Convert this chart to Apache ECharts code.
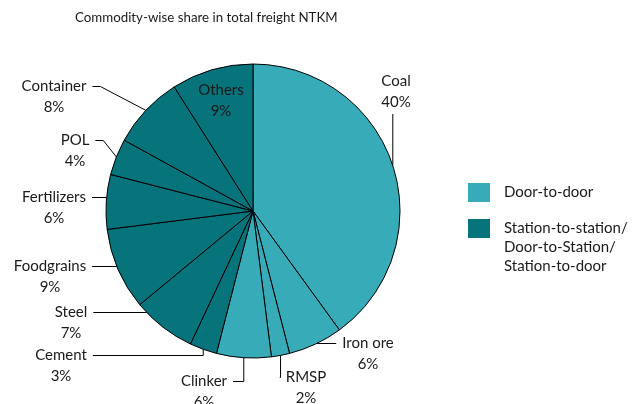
<!DOCTYPE html>
<html>
<head>
<meta charset="utf-8">
<script src="https://cdn.jsdelivr.net/npm/echarts@6/dist/echarts.min.js"></script>
<style>
  html, body { margin: 0; padding: 0; background: #fff; }
  #chart { width: 642px; height: 404px; }
</style>
</head>
<body>
<div id="chart"></div>
<script>
// data (share of total freight NTKM, %)
const categories = ['Coal', 'Iron ore', 'RMSP', 'Clinker', 'Cement', 'Steel',
  'Foodgrains', 'Fertilizers', 'POL', 'Container', 'Others'];
const shares = [40, 6, 2, 6, 3, 7, 9, 6, 4, 8, 9];
// 0 = door-to-door, 1 = station-to-station etc.
const groups = [0, 0, 0, 0, 1, 1, 1, 1, 1, 1, 1];
const legendNames = ['Door-to-door', 'Station-to-station/\nDoor-to-Station/\nStation-to-door'];

const groupColors = ['#37ABB8', '#07737B'];
// where each label block sits (centre of the two lines)
const labelSpots = [
  [396, 92], [368, 354], [306, 388], [204, 392], [61, 366], [71, 323],
  [50, 277], [54, 208], [75, 151], [54, 97], [221, 101]
];
// which side the leader line leaves from, and how it bends
const leaderKinds = [
  ['bottom', 'down'], ['left', 'flat'], ['left', 'corner'], ['right', 'corner'],
  ['right', 'corner'], ['right', 'flat'], ['right', 'flat'], ['right', 'flat'],
  ['right', 'diag'], ['right', 'diag'], null
];

const font = 'Lato, "Open Sans", sans-serif';
const pieCenter = [253, 211];
const pieRadius = 147;
const labelLineHeight = 21;

// mid angle of every slice, clockwise from 12 o'clock
const total = shares.reduce(function (a, b) { return a + b; }, 0);
let acc = 0;
const midAngles = shares.map(function (v) {
  let mid = (acc + v / 2) / total * Math.PI * 2;
  acc += v;
  return mid;
});

function arcPoint(a) {
  return [pieCenter[0] + pieRadius * Math.sin(a), pieCenter[1] - pieRadius * Math.cos(a)];
}

let myChart = echarts.init(document.getElementById('chart'));

let pieData = categories.map(function (name, i) {
  let item = {
    name: name,
    value: shares[i],
    itemStyle: { color: groupColors[groups[i]] }
  };
  if (!leaderKinds[i]) {
    item.labelLine = { show: false };
  }
  return item;
});

let legendText = {
  color: '#1a1a1a',
  fontFamily: font,
  fontSize: 15,
  lineHeight: 19,
  padding: [0, 0, 0, 9]
};

let options = {
  backgroundColor: '#fff',
  animation: false,
  title: {
    text: 'Commodity-wise share in total freight NTKM',
    left: 70,
    top: 6,
    textStyle: {
      color: '#1a1a1a',
      fontFamily: font,
      fontWeight: 'normal',
      fontSize: 13.3
    }
  },
  legend: [
    {
      orient: 'vertical',
      left: 468,
      top: 183,
      padding: 0,
      icon: 'rect',
      itemWidth: 22,
      itemHeight: 19,
      selectedMode: false,
      textStyle: legendText,
      data: [legendNames[0]]
    },
    {
      // two blank lines on top so the first text line sits beside the swatch
      orient: 'vertical',
      left: 468,
      top: 181,
      padding: 0,
      icon: 'rect',
      itemWidth: 22,
      itemHeight: 19,
      selectedMode: false,
      textStyle: legendText,
      formatter: function (name) { return '\n\n' + name; },
      data: [legendNames[1]]
    }
  ],
  series: [
    {
      name: 'NTKM share',
      type: 'pie',
      center: pieCenter,
      radius: [0, pieRadius],
      startAngle: 90,
      clockwise: true,
      avoidLabelOverlap: false,
      itemStyle: {
        borderColor: '#000',
        borderWidth: 1
      },
      label: {
        show: true,
        position: 'outside',
        formatter: '{b}\n{c}%',
        color: '#1a1a1a',
        fontFamily: font,
        fontSize: 15,
        lineHeight: labelLineHeight,
        align: 'center'
      },
      labelLine: {
        show: true,
        length: 10,
        length2: 8,
        smooth: false,
        lineStyle: { color: '#000', width: 1 }
      },
      labelLayout: function (params) {
        let i = params.dataIndex;
        let spot = labelSpots[i];
        let out = { x: spot[0], y: spot[1], align: 'center', verticalAlign: 'middle' };
        let kind = leaderKinds[i];
        if (!kind) return out;
        let w = params.labelRect.width;
        let h = params.labelRect.height;
        let arc = arcPoint(midAngles[i]);
        let firstY = spot[1] - h / 2 + labelLineHeight / 2;
        let gap = 6;
        let pts;
        if (kind[0] === 'bottom') {
          pts = [[arc[0], spot[1] + h / 2 + 1], arc];
        } else {
          let ax = kind[0] === 'left' ? spot[0] - w / 2 - gap : spot[0] + w / 2 + gap;
          if (kind[1] === 'flat') {
            let dy = firstY - pieCenter[1];
            let dx = Math.sqrt(pieRadius * pieRadius - dy * dy);
            pts = [[ax, firstY], [pieCenter[0] + (ax < pieCenter[0] ? -dx : dx), firstY]];
          } else if (kind[1] === 'corner') {
            pts = [[ax, firstY], [arc[0], firstY], arc];
          } else {
            pts = [[ax, firstY], [ax + (kind[0] === 'left' ? -8 : 8), firstY], arc];
          }
        }
        out.labelLinePoints = pts;
        return out;
      },
      emphasis: { disabled: true },
      data: pieData
    },
    {
      // only here so the legend gets its two colour groups
      name: 'groups',
      type: 'pie',
      center: pieCenter,
      radius: [0, 0],
      silent: true,
      label: { show: false },
      labelLine: { show: false },
      data: legendNames.map(function (n, i) {
        return { name: n, value: 0, itemStyle: { color: groupColors[i] } };
      })
    }
  ]
};

myChart.setOption(options);
</script>
</body>
</html>
